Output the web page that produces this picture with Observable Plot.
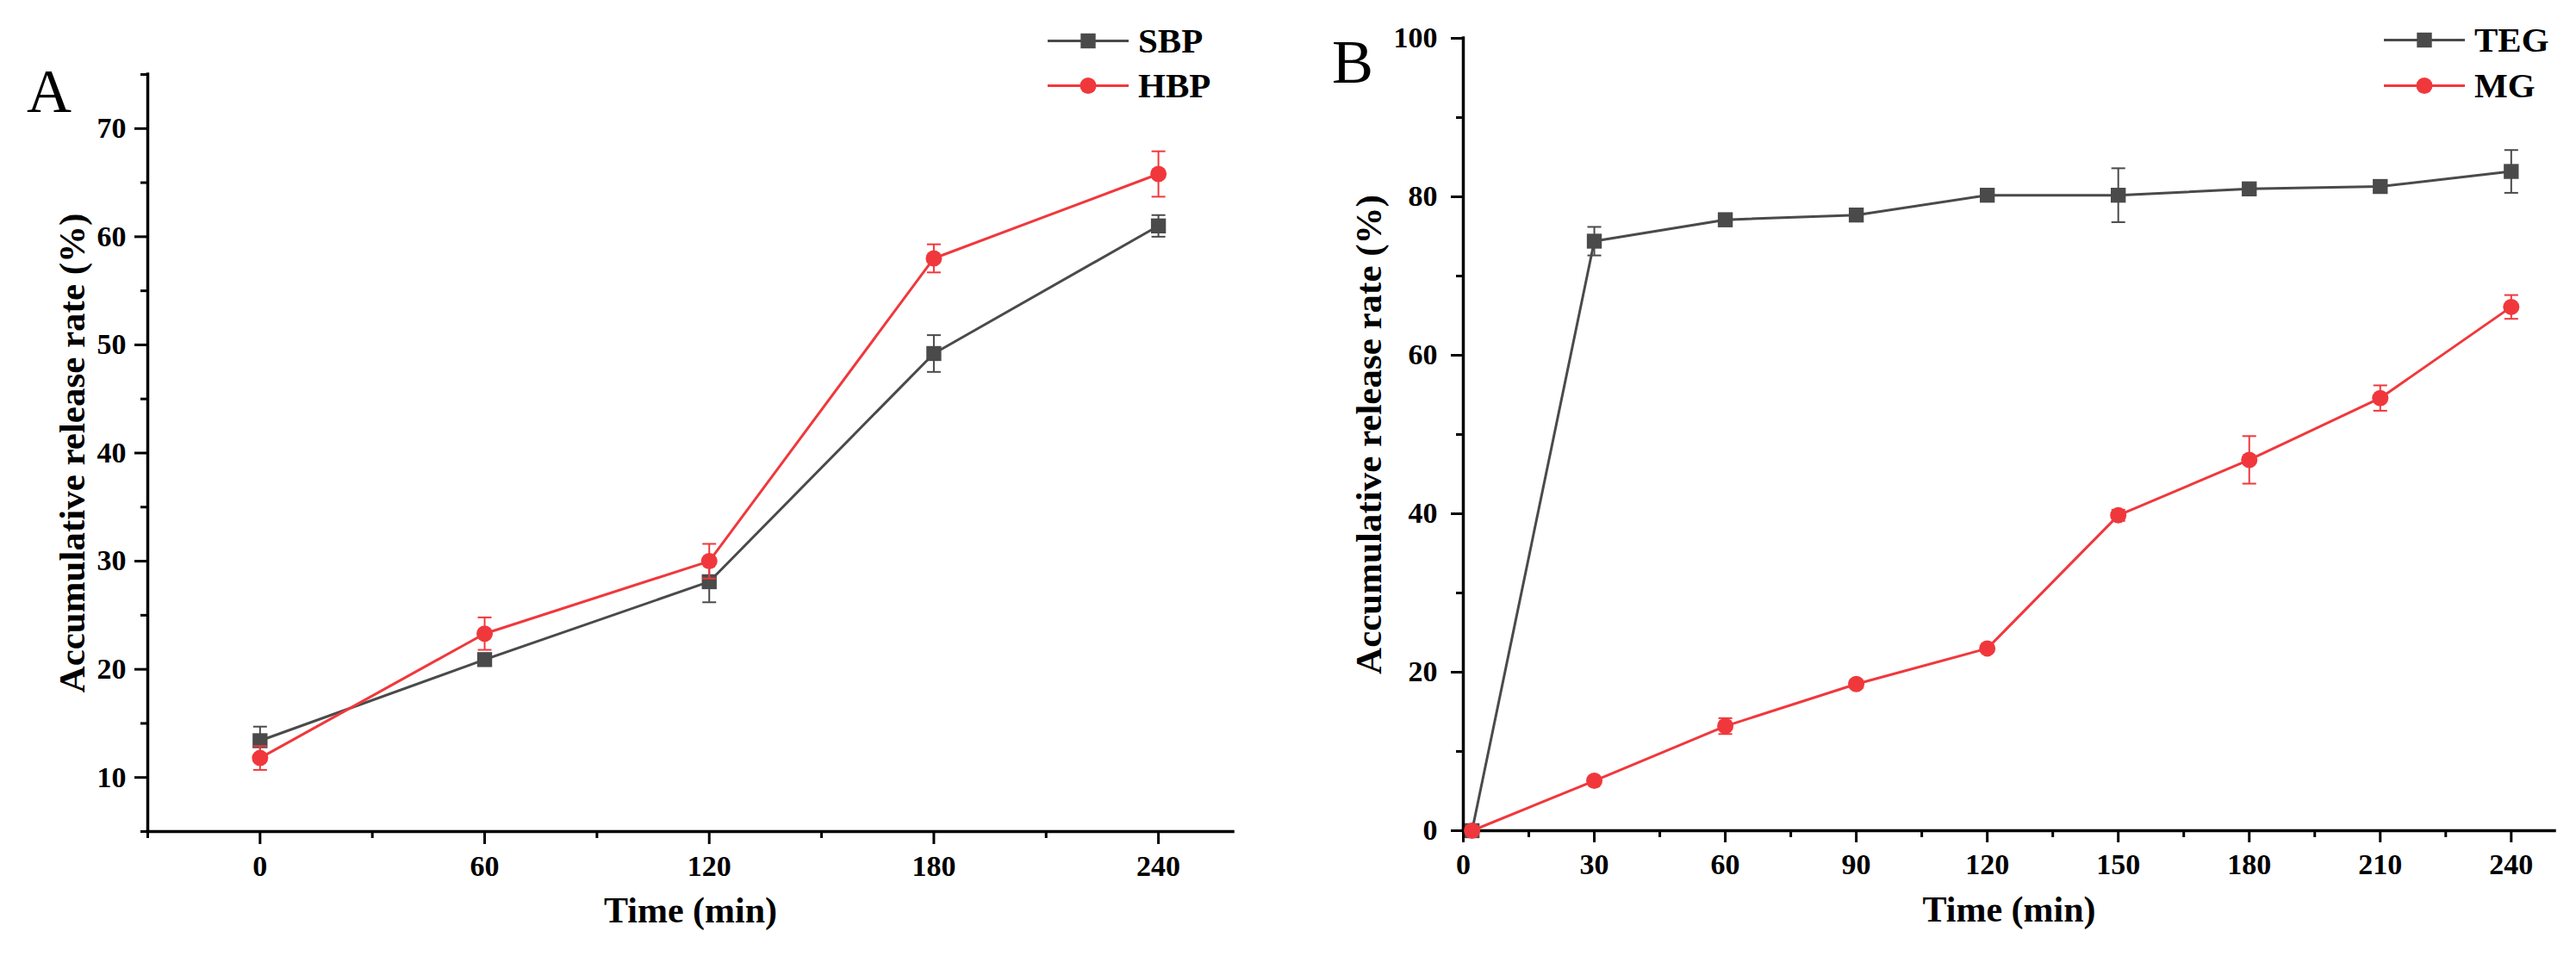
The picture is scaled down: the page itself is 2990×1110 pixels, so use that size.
<!DOCTYPE html>
<html><head><meta charset="utf-8">
<script src="https://cdn.jsdelivr.net/npm/d3@7"></script>
<script src="https://cdn.jsdelivr.net/npm/@observablehq/plot@0.6"></script>
<style>
html,body{margin:0;padding:0;background:#fff;}
#fig{position:relative;width:2990px;height:1110px;overflow:hidden;font-family:"Liberation Serif","Times New Roman",serif;color:#000;}
.panel{position:absolute;top:0;}
.letter{position:absolute;font-size:72px;line-height:72px;font-weight:normal;}
.leg{position:absolute;display:flex;align-items:center;height:41px;font-size:41px;line-height:41px;font-weight:bold;}
.leg span{margin-left:11px;}
</style></head><body><div id="fig"></div>
<script>
// ---------- Panel A data ----------
const timeA = [0, 60, 120, 180, 240];
const sbp = [13.4, 20.9, 28.1, 49.2, 61.0];
const sbpErr = [1.3, 0.5, 1.9, 1.7, 1.0];
const hbp = [11.8, 23.3, 30.0, 58.0, 65.8];
const hbpErr = [1.1, 1.5, 1.6, 1.3, 2.1];
const xDomainA = [-30, 260];
const yDomainA = [5, 75];
const xTicksA = [0, 60, 120, 180, 240];
const xMinorA = [-30, 30, 90, 150, 210];
const yTicksA = [10, 20, 30, 40, 50, 60, 70];
const yMinorA = [5, 15, 25, 35, 45, 55, 65, 75];
const namesA = ["SBP", "HBP"];

// ---------- Panel B data ----------
const timeB = [2, 30, 60, 90, 120, 150, 180, 210, 240];
const teg = [0, 74.4, 77.1, 77.7, 80.2, 80.2, 81.0, 81.3, 83.2];
const tegErr = [0, 1.8, 0.8, 0.8, 0.3, 3.4, 0.5, 0.5, 2.7];
const mg = [0, 6.3, 13.2, 18.5, 23.0, 39.8, 46.8, 54.6, 66.1];
const mgErr = [0, 0.4, 1.0, 0.5, 0.3, 0.7, 3.0, 1.6, 1.5];
const xDomainB = [0, 250];
const yDomainB = [0, 100];
const xTicksB = [0, 30, 60, 90, 120, 150, 180, 210, 240];
const xMinorB = [15, 45, 75, 105, 135, 165, 195, 225];
const yTicksB = [0, 20, 40, 60, 80, 100];
const yMinorB = [10, 30, 50, 70, 90];
const namesB = ["TEG", "MG"];

const xTitle = "Time (min)";
const yTitle = "Accumulative release rate (%)";
const GRAY = "#4a4a4a";
const RED = "#f0383c";

const capSymbol = {draw(ctx, size) { const w = Math.sqrt(size / Math.PI); ctx.moveTo(-w, 0); ctx.lineTo(w, 0); }};

function rows(t, v, e) { return t.map((x, i) => ({t: x, v: v[i], e: e[i]})); }

function seriesMarks(data, color, symbol, r) {
  const withErr = data.filter(d => d.e > 0);
  return [
    Plot.line(data, {x: "t", y: "v", stroke: color, strokeWidth: 3}),
    Plot.ruleX(withErr, {x: "t", y1: d => d.v - d.e, y2: d => d.v + d.e, stroke: color, strokeWidth: 2}),
    Plot.dot(withErr, {x: "t", y: d => d.v + d.e, symbol: capSymbol, r: 8, stroke: color, strokeWidth: 2, fill: "none"}),
    Plot.dot(withErr, {x: "t", y: d => d.v - d.e, symbol: capSymbol, r: 8, stroke: color, strokeWidth: 2, fill: "none"}),
    Plot.dot(data, {x: "t", y: "v", symbol, r, fill: color, stroke: "none"})
  ];
}

function panel(cfg) {
  return Plot.plot({
    width: cfg.width, height: 1110,
    marginLeft: cfg.ml, marginRight: cfg.mr, marginTop: cfg.mt, marginBottom: cfg.mb,
    x: {domain: cfg.xd, label: null},
    y: {domain: cfg.yd, label: null},
    style: {fontFamily: "'Liberation Serif','Times New Roman',serif", fontWeight: "bold", fontSize: "34px", background: "transparent", color: "#000", overflow: "visible"},
    marks: [
      Plot.axisX(cfg.xt, {tickSize: cfg.ts, tickPadding: 12, strokeWidth: 3, fontSize: 34, fontWeight: "bold", label: null, tickFormat: d => String(d)}),
      Plot.axisX(cfg.xm, {tickSize: 8, strokeWidth: 3, fill: "none", label: null}),
      Plot.axisY(cfg.yt, {tickSize: cfg.ts, tickPadding: cfg.typ, strokeWidth: 3, fontSize: 34, fontWeight: "bold", label: null, tickFormat: d => String(d)}),
      Plot.axisY(cfg.ym, {tickSize: 8, strokeWidth: 3, fill: "none", label: null}),
      Plot.ruleY([cfg.yd[0]], {stroke: "#000", strokeWidth: 3.5, strokeLinecap: "square"}),
      Plot.ruleX([cfg.xd[0]], {stroke: "#000", strokeWidth: 3.5, strokeLinecap: "square"}),
      ...seriesMarks(cfg.s1, GRAY, "square", 9.8),
      ...seriesMarks(cfg.s2, RED, "circle", 9.5),
      Plot.text([xTitle], {text: d => d, frameAnchor: "bottom", textAnchor: "middle", dy: 105, fontSize: 42, fontWeight: "bold"}),
      Plot.text([yTitle], {text: d => d, frameAnchor: "left", textAnchor: "middle", rotate: -90, dx: cfg.ydx, fontSize: 43, fontWeight: "bold"})
    ]
  });
}

const fig = document.getElementById("fig");

const A = panel({width: 1480, ml: 171, mr: 49, mt: 86, mb: 145, xd: xDomainA, yd: yDomainA,
  xt: xTicksA, xm: xMinorA, yt: yTicksA, ym: yMinorA, ts: 15, typ: 10, ydx: -87,
  s1: rows(timeA, sbp, sbpErr), s2: rows(timeA, hbp, hbpErr)});
A.classList.add("panel"); A.style.left = "0px";
fig.appendChild(A);

const B = panel({width: 1510, ml: 218, mr: 25, mt: 44, mb: 146, xd: xDomainB, yd: yDomainB,
  xt: xTicksB, xm: xMinorB, yt: yTicksB, ym: yMinorB, ts: 14, typ: 16, ydx: -109,
  s1: rows(timeB, teg, tegErr), s2: rows(timeB, mg, mgErr)});
B.classList.add("panel"); B.style.left = "1480px";
fig.appendChild(B);

// panel letters
function letter(t, left, top) {
  const d = document.createElement("div");
  d.className = "letter"; d.textContent = t;
  d.style.left = left + "px"; d.style.top = top + "px";
  fig.appendChild(d);
}
letter("A", 31, 70);
letter("B", 1546, 36);

// legends
function legendRow(name, color, shape, left, centerY) {
  const row = document.createElement("div");
  row.className = "leg";
  row.style.left = left + "px"; row.style.top = (centerY - 20.5) + "px";
  const ns = "http://www.w3.org/2000/svg";
  const svg = document.createElementNS(ns, "svg");
  svg.setAttribute("width", 94); svg.setAttribute("height", 41);
  const ln = document.createElementNS(ns, "line");
  ln.setAttribute("x1", 0); ln.setAttribute("x2", 94); ln.setAttribute("y1", 20.5); ln.setAttribute("y2", 20.5);
  ln.setAttribute("stroke", color); ln.setAttribute("stroke-width", 3);
  svg.appendChild(ln);
  let m;
  if (shape === "square") {
    m = document.createElementNS(ns, "rect");
    m.setAttribute("x", 47 - 8.7); m.setAttribute("y", 20.5 - 8.7); m.setAttribute("width", 17.4); m.setAttribute("height", 17.4);
  } else {
    m = document.createElementNS(ns, "circle");
    m.setAttribute("cx", 47); m.setAttribute("cy", 20.5); m.setAttribute("r", 9.5);
  }
  m.setAttribute("fill", color);
  svg.appendChild(m);
  row.appendChild(svg);
  const s = document.createElement("span"); s.textContent = name;
  row.appendChild(s);
  fig.appendChild(row);
}
legendRow(namesA[0], GRAY, "square", 1216, 47);
legendRow(namesA[1], RED, "circle", 1216, 99);
legendRow(namesB[0], GRAY, "square", 2767, 46);
legendRow(namesB[1], RED, "circle", 2767, 99);
</script></body></html>
